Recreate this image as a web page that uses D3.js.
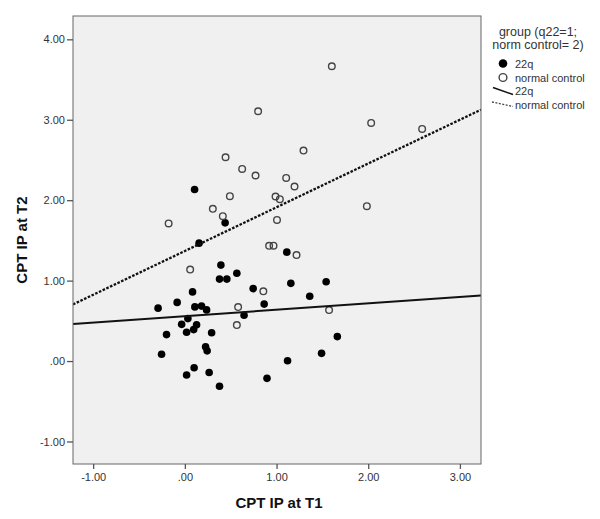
<!DOCTYPE html>
<html>
<head>
<meta charset="utf-8">
<script src="https://cdn.jsdelivr.net/npm/d3@7"></script>
<style>
  html, body { margin: 0; padding: 0; background: #ffffff; }
  svg { display: block; font-family: "Liberation Sans", Arial, sans-serif; }
</style>
</head>
<body>
<svg id="chart" width="600" height="519"></svg>
<script>
// ---- Data ----
const xTicks = [-1, 0, 1, 2, 3];
const yTicks = [-1, 0, 1, 2, 3, 4];
const xDomain = [-1.22, 3.23];
const yDomain = [-1.28, 4.29];

// group 22q (filled): [CPT IP at T1, CPT IP at T2]
const group22q = [
  [0.106, 2.133], [0.439, 1.718], [0.155, 1.466], [0.393, 1.193], [0.378, 1.019],
  [0.458, 1.019], [0.567, 1.091], [1.112, 1.354], [0.745, 0.901], [1.156, 0.966],
  [1.541, 0.986], [1.362, 0.806], [0.865, 0.708], [0.084, 0.860], [-0.084, 0.729],
  [-0.292, 0.658], [0.109, 0.673], [0.182, 0.683], [0.237, 0.636], [0.646, 0.569],
  [0.033, 0.528], [-0.035, 0.456], [0.128, 0.450], [0.096, 0.391], [0.019, 0.358],
  [0.292, 0.352], [-0.200, 0.329], [1.663, 0.304], [0.226, 0.178], [0.243, 0.127],
  [-0.254, 0.084], [1.491, 0.096], [1.120, 0.004], [0.101, -0.083], [0.265, -0.143],
  [0.019, -0.174], [0.896, -0.215], [0.378, -0.313]
];

// normal control (open)
const groupControl = [
  [1.603, 3.665], [0.799, 3.106], [2.032, 2.960], [2.588, 2.886], [0.444, 2.534],
  [1.294, 2.617], [0.625, 2.389], [0.771, 2.307], [1.105, 2.277], [1.196, 2.170],
  [0.491, 2.050], [0.989, 2.046], [1.036, 2.012], [1.985, 1.925], [0.305, 1.892],
  [0.414, 1.801], [-0.177, 1.711], [1.005, 1.755], [0.919, 1.432], [0.967, 1.435],
  [1.218, 1.317], [0.058, 1.137], [0.856, 0.867], [0.581, 0.671], [1.573, 0.634],
  [0.567, 0.447]
];

// fit lines: intercept, slope
const fitIntercepts = [0.558, 1.368];
const fitSlopes = [0.080, 0.544];
const fitNames = ["22q", "normal control"];

const legendTitle = ["group (q22=1;", "norm control= 2)"];
const xTitle = "CPT IP at T1";
const yTitle = "CPT IP at T2";

// ---- Drawing ----
const svg = d3.select("#chart");
const L = 73, R = 481, T = 16, B = 464;
const x = d3.scaleLinear().domain(xDomain).range([L, R]);
const y = d3.scaleLinear().domain(yDomain).range([B, T]);
const fmt = v => v === 0 ? ".00" : (v < 0 ? "-" : "") + Math.abs(v).toFixed(2);

svg.append("rect")
  .attr("x", L).attr("y", T).attr("width", R - L).attr("height", B - T)
  .attr("fill", "#f0f0f0");

svg.append("clipPath").attr("id", "clip")
  .append("rect").attr("x", L).attr("y", T).attr("width", R - L).attr("height", B - T);

const plot = svg.append("g").attr("clip-path", "url(#clip)");

plot.selectAll("circle.c22").data(group22q).enter().append("circle")
  .attr("class", "c22")
  .attr("cx", d => x(d[0])).attr("cy", d => y(d[1])).attr("r", 3.8)
  .attr("fill", "#000");

plot.selectAll("circle.cnc").data(groupControl).enter().append("circle")
  .attr("class", "cnc")
  .attr("cx", d => x(d[0])).attr("cy", d => y(d[1])).attr("r", 3.3)
  .attr("fill", "none").attr("stroke", "#444").attr("stroke-width", 1.4);

fitIntercepts.forEach((b, i) => {
  const m = fitSlopes[i];
  const pts = xDomain.map(v => [x(v), y(b + m * v)]);
  const ln = plot.append("line")
    .attr("x1", pts[0][0]).attr("y1", pts[0][1])
    .attr("x2", pts[1][0]).attr("y2", pts[1][1])
    .attr("stroke", "#111")
    .attr("stroke-width", i === 0 ? 2 : 2.3);
  if (i === 1) ln.attr("stroke-dasharray", "2.6,1.5");
});

svg.append("rect")
  .attr("x", L).attr("y", T).attr("width", R - L).attr("height", B - T)
  .attr("fill", "none").attr("stroke", "#666").attr("stroke-width", 1);

// axes
const xAxis = svg.append("g").attr("transform", `translate(0,${B})`)
  .call(d3.axisBottom(x).tickValues(xTicks).tickFormat(fmt).tickSize(5).tickPadding(4));
const yAxis = svg.append("g").attr("transform", `translate(${L},0)`)
  .call(d3.axisLeft(y).tickValues(yTicks).tickFormat(fmt).tickSize(6).tickPadding(2));
[xAxis, yAxis].forEach(a => {
  a.select(".domain").remove();
  a.selectAll(".tick line").attr("stroke", "#555").attr("stroke-width", 1.3);
  a.selectAll(".tick text").attr("fill", "#333").style("font-size", "11px")
    .style("font-family", "'Liberation Sans', Arial, sans-serif");
});

svg.append("text").text(xTitle)
  .attr("x", (L + R) / 2 + 2).attr("y", 508)
  .attr("text-anchor", "middle").attr("font-weight", "bold")
  .attr("font-size", 15).attr("fill", "#111");

svg.append("text").text(yTitle)
  .attr("transform", `translate(27,${(T + B) / 2}) rotate(-90)`)
  .attr("text-anchor", "middle").attr("font-weight", "bold")
  .attr("font-size", 15).attr("fill", "#111");

// legend
const lg = svg.append("g");
legendTitle.forEach((t, i) => {
  lg.append("text").text(t).attr("x", 538).attr("y", 35.5 + i * 13)
    .attr("text-anchor", "middle").attr("font-size", 12.5).attr("fill", "#333");
});
lg.append("circle").attr("cx", 503).attr("cy", 63.5).attr("r", 4.3).attr("fill", "#000");
lg.append("circle").attr("cx", 503).attr("cy", 77.5).attr("r", 3.9)
  .attr("fill", "none").attr("stroke", "#444").attr("stroke-width", 1.4);
lg.append("line").attr("x1", 493).attr("y1", 87.5).attr("x2", 513).attr("y2", 94.5)
  .attr("stroke", "#111").attr("stroke-width", 1.5);
lg.append("line").attr("x1", 492).attr("y1", 102).attr("x2", 513).attr("y2", 106.5)
  .attr("stroke", "#444").attr("stroke-width", 1.3).attr("stroke-dasharray", "2,1.5");
const labels = [fitNames[0], fitNames[1], fitNames[0], fitNames[1]];
const labelY = [67.5, 81.5, 94.5, 109];
labels.forEach((t, i) => {
  lg.append("text").text(t).attr("x", 515).attr("y", labelY[i])
    .attr("font-size", 11).attr("fill", "#333");
});
</script>
</body>
</html>
